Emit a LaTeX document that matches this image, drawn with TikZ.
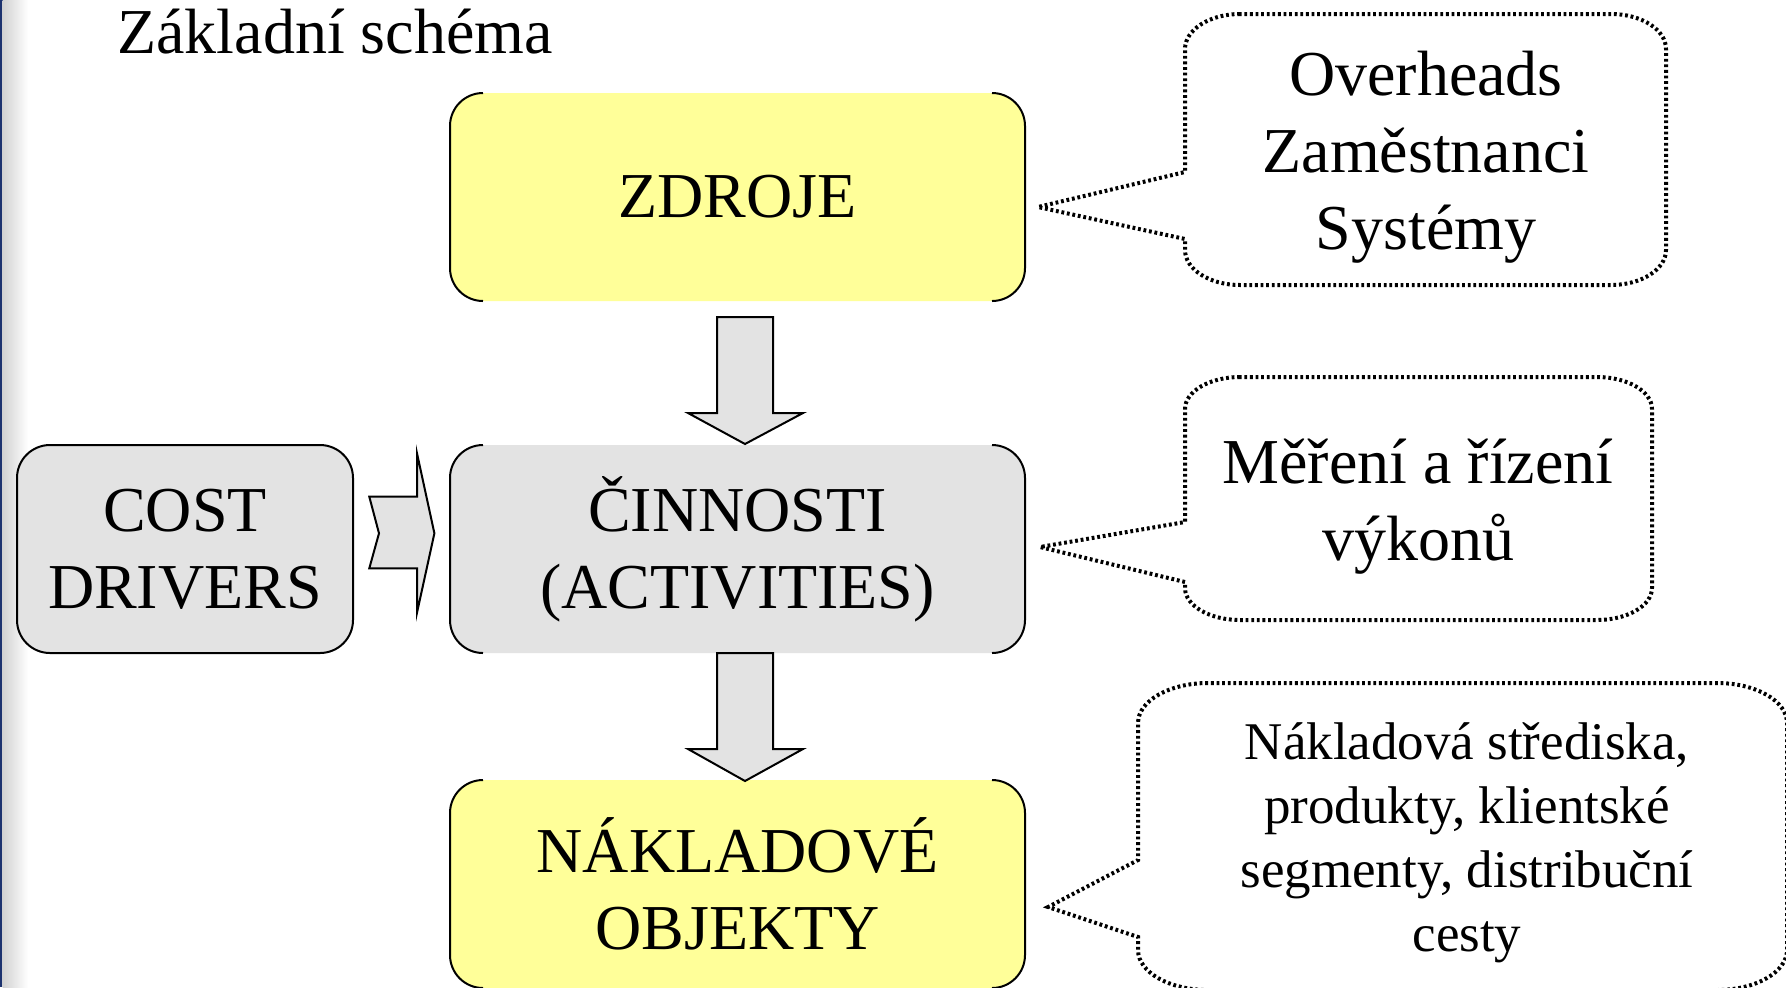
\documentclass[tikz,border=0pt]{standalone}
\usepackage{fontspec}
\setmainfont{Liberation Serif}
\definecolor{boxyellow}{RGB}{255,255,153}
\definecolor{boxgray}{RGB}{227,227,227}
\definecolor{navybar}{RGB}{28,50,110}
\tikzset{
  boxtext/.style={align=center, font=\fontsize{32}{38.5}\selectfont, inner sep=0pt, outer sep=0pt, minimum height=104pt, text=black},
  mainbox/.style={boxtext, minimum width=287.5pt, rounded corners=16.5pt},
  sideline/.style={draw=black, line width=1pt},
  blockarrow/.style={fill=boxgray, draw=black, line width=1pt, line join=miter},
  callline/.style={draw=black, line width=2pt, dash pattern=on 1.4pt off 1.4pt},
  calltext/.style={align=center, font=\fontsize{32}{38.5}\selectfont, inner sep=0pt},
}
\newcommand\sideedges[1]{%
  \draw[sideline] ([xshift=16.5pt]#1.north west) arc[start angle=90,end angle=180,radius=16.5pt]
     -- ([yshift=16.5pt]#1.south west) arc[start angle=180,end angle=270,radius=16.5pt];
  \draw[sideline] ([xshift=-16.5pt]#1.south east) arc[start angle=270,end angle=360,radius=16.5pt]
     -- ([yshift=-16.5pt]#1.north east) arc[start angle=0,end angle=90,radius=16.5pt];}
\begin{document}
\begin{tikzpicture}[x=0.5pt, y=-0.5pt]
\useasboundingbox (0,0) rectangle (1786,987);
\clip (0,0) rectangle (1786,987);
\fill[white] (0,0) rectangle (1786,987);
% left edge
\fill[navybar] (0,0) rectangle (2.5,987);
\shade[left color=black!18, right color=white] (2.5,0) rectangle (28,987);

% title
\node[anchor=base west, font=\fontsize{32}{38.5}\selectfont, inner sep=0pt] (title) at (117,53) {Základní schéma};

% main boxes
\node[mainbox, fill=boxyellow] (zdroje) at (737.5,197) {ZDROJE};
\sideedges{zdroje}
\node[mainbox, fill=boxgray] (cinnosti) at (737.5,549) {ČINNOSTI\\(ACTIVITIES)};
\sideedges{cinnosti}
\node[mainbox, fill=boxyellow] (objekty) at (737.5,884) {NÁKLADOVÉ\\OBJEKTY};
\sideedges{objekty}
\node[boxtext, minimum width=168pt, rounded corners=16.5pt, fill=boxgray, draw=black, line width=1pt] (drivers) at (185,549) {COST\\DRIVERS};

% block arrows
\draw[blockarrow] (717,317) -- (773,317) -- (773,413) -- (803,413) -- (745,444) -- (688,413) -- (717,413) -- cycle;
\draw[blockarrow] (717,653) -- (773,653) -- (773,749) -- (803,749) -- (745,781) -- (688,749) -- (717,749) -- cycle;
\draw[blockarrow] (369.3,496.7) -- (417,496.7) -- (417,453.3) -- (434.4,533.3) -- (417,612.7) -- (417,568.3) -- (369.3,568.3) -- (379,533.3) -- cycle;

% callout 1
\draw[callline] (1240,14) arc[start angle=90,end angle=180,x radius=27.5pt,y radius=17.5pt]
  -- (1185,172) -- (1038,207) -- (1185,239) -- (1185,250)
  arc[start angle=180,end angle=270,x radius=27.5pt,y radius=17.5pt]
  -- (1611,285) arc[start angle=270,end angle=360,x radius=27.5pt,y radius=17.5pt]
  -- (1666,49) arc[start angle=0,end angle=90,x radius=27.5pt,y radius=17.5pt] -- cycle;
\node[calltext] (c1) at (1426,157) {Overheads\\Zaměstnanci\\Systémy};

% callout 2
\draw[callline] (1240,377) arc[start angle=90,end angle=180,x radius=27.5pt,y radius=16pt]
  -- (1185,522) -- (1040,547) -- (1185,582) -- (1185,588)
  arc[start angle=180,end angle=270,x radius=27.5pt,y radius=16pt]
  -- (1597,620) arc[start angle=270,end angle=360,x radius=27.5pt,y radius=16pt]
  -- (1652,409) arc[start angle=0,end angle=90,x radius=27.5pt,y radius=16pt] -- cycle;
\node[calltext] (c2) at (1418,507) {Měření a řízení\\výkonů};

% callout 3
\draw[callline] (1208,683) arc[start angle=90,end angle=180,x radius=35pt,y radius=20pt]
  -- (1138,860) -- (1048,907) -- (1138,937) -- (1138,950)
  arc[start angle=180,end angle=270,x radius=35pt,y radius=20pt]
  -- (1717,990) arc[start angle=270,end angle=360,x radius=35pt,y radius=20pt]
  -- (1787,723) arc[start angle=0,end angle=90,x radius=35pt,y radius=20pt] -- cycle;
\node[calltext, font=\fontsize{26.5}{32}\selectfont] (c3) at (1467,843) {Nákladová střediska,\\produkty, klientské\\segmenty, distribuční\\cesty};
\end{tikzpicture}
\end{document}
